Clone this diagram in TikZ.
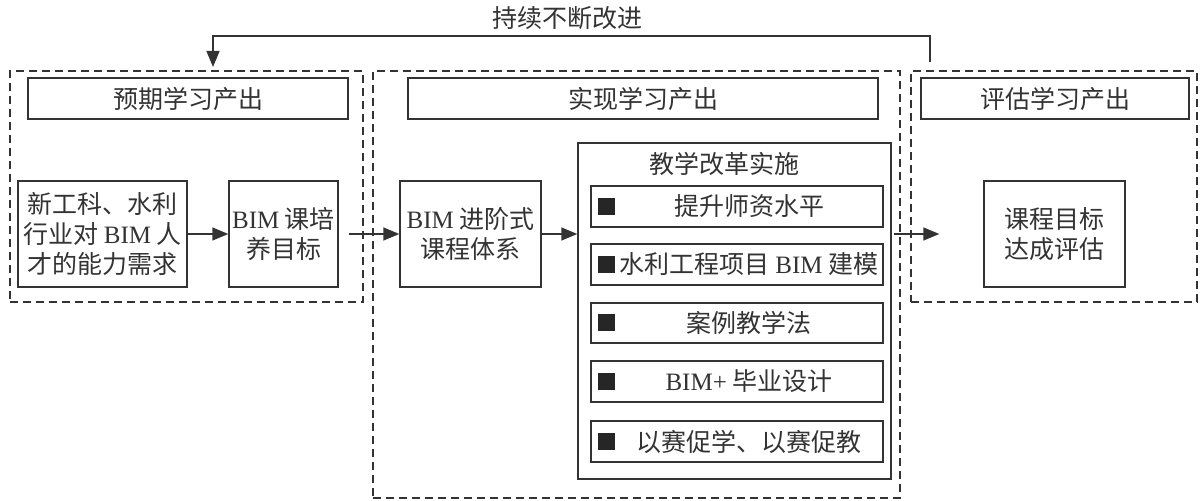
\documentclass[tikz,border=0pt]{standalone}
\usepackage{fontspec}
\setmainfont{Noto Sans CJK SC}
\newfontfamily\latinfont{Liberation Serif}
\usetikzlibrary{arrows.meta, positioning, fit}
\newcommand{\bim}{{\latinfont BIM}}

\begin{document}
\begin{tikzpicture}[
    x=0.5pt, y=0.5pt,
    font=\fontsize{12.5}{15}\selectfont,
    text=black!80,
    box/.style={
      draw=black!80,
      line width=0.7pt,
      align=center,
      inner sep=0pt,
      minimum height=53pt
    },
    header/.style={
      box,
      minimum height=20.5pt
    },
    item/.style={
      draw=black!80,
      line width=0.7pt,
      inner sep=0pt
    },
    grp/.style={
      draw=black!80,
      dash pattern=on 4pt off 2.5pt,
      line width=0.7pt,
      inner sep=0pt
    },
    bullet/.style={
      fill=black!85,
      minimum size=8.5pt,
      inner sep=0pt
    },
    arrow/.style={
      -{Triangle[length=8pt, width=6.5pt]},
      line width=0.7pt,
      draw=black!80
    }
  ]
    \useasboundingbox (0,0) rectangle (1203,-501);

    % Stage groups
    \node[grp, fit={(10,-71) (363,-302)}] (grpPlan) {};
    \node[grp, fit={(373,-71) (900,-498)}] (grpDo) {};
    \node[grp, fit={(911,-71) (1197,-302)}] (grpEval) {};

    % Stage headers
    \node[header, minimum width=160pt] (hdPlan) at (188,-98.5) {预期学习产出};
    \node[header, minimum width=235pt] (hdDo) at (643,-98.5) {实现学习产出};
    \node[header, minimum width=134pt] (hdEval) at (1055,-98.5) {评估学习产出};

    % Main flow
    \node[box, minimum width=84.5pt] (need) at (102.5,-234) {新工科、水利\\行业对 \bim{} 人\\才的能力需求};
    \node[box, minimum width=54.5pt] (goal) at (283.5,-234) {\bim{} 课培\\养目标};
    \node[box, minimum width=70.5pt] (course) at (470.5,-234) {\bim{} 进阶式\\课程体系};
    \node[item, fit={(578,-143) (891,-479)}] (impl) {};
    \node (implTitle) at (724,-164) {教学改革实施};
    \node[box, minimum width=70.5pt] (assess) at (1054.5,-234) {课程目标\\达成评估};

    % Reform measures
    \node[item, fit={(591,-186) (883,-227)}] (itm1) {};
    \node[item, fit={(591,-244) (883,-285)}] (itm2) {};
    \node[item, fit={(591,-303) (883,-343)}] (itm3) {};
    \node[item, fit={(591,-361) (883,-402)}] (itm4) {};
    \node[item, fit={(591,-421) (883,-462)}] (itm5) {};

    \node[bullet, right=3.5pt of itm1.west] (mk1) {};
    \node[bullet, right=3.5pt of itm2.west] (mk2) {};
    \node[bullet, right=3.5pt of itm3.west] (mk3) {};
    \node[bullet, right=3.5pt of itm4.west] (mk4) {};
    \node[bullet, right=3.5pt of itm5.west] (mk5) {};

    \node (tx1) at ([xshift=6pt]itm1.center) {提升师资水平};
    \node (tx2) at ([xshift=6pt]itm2.center) {水利工程项目 \bim{} 建模};
    \node (tx3) at ([xshift=6pt]itm3.center) {案例教学法};
    \node (tx4) at ([xshift=6pt]itm4.center) {{\latinfont BIM+} 毕业设计};
    \node (tx5) at ([xshift=6pt]itm5.center) {以赛促学、以赛促教};

    % Arrows
    \draw[arrow] (need) -- (goal);
    \draw[arrow] ([xshift=5pt]goal.east) -- (course.west);
    \draw[arrow] (course.east) -- (course -| impl.west);
    \draw[arrow] ([xshift=1pt]impl.east |- assess.west) -- ([xshift=-22pt]assess.west);

    % Feedback loop
    \coordinate (loopR) at (930,-62);
    \coordinate (loopTop) at (567,-36);
    \coordinate (loopL) at (213,-67);
    \node (loopLabel) at (567,-18) {持续不断改进};
    \draw[arrow] (loopR) |- (loopTop) -| (loopL);

  \end{tikzpicture}
\end{document}
